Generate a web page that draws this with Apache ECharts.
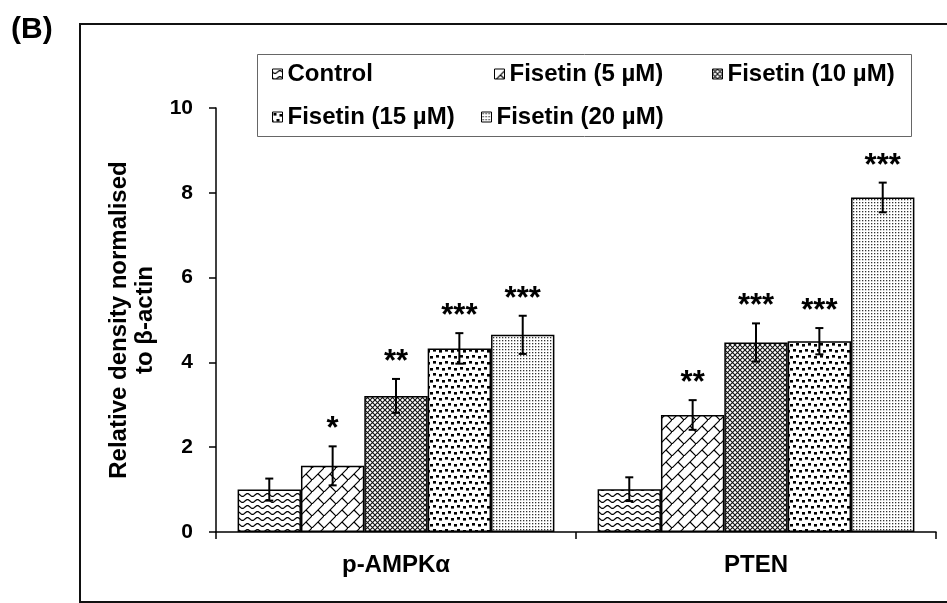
<!DOCTYPE html>
<html>
<head>
<meta charset="utf-8">
<script src="https://cdn.jsdelivr.net/npm/echarts@6/dist/echarts.min.js"></script>
<style>
  html, body { margin: 0; padding: 0; background: #fff; }
  #chart { width: 947px; height: 603px; }
</style>
</head>
<body>
<div id="chart"></div>
<script>
// categories and series values
const categories = ['p-AMPKα', 'PTEN']
const seriesNames = ['Control', 'Fisetin (5 µM)', 'Fisetin (10 µM)', 'Fisetin (15 µM)', 'Fisetin (20 µM)']

const control = [1.0, 1.01]
const fisetin5 = [1.56, 2.76]
const fisetin10 = [3.21, 4.47]
const fisetin15 = [4.33, 4.5]
const fisetin20 = [4.65, 7.89]

// error bar half lengths
const controlErr = [0.26, 0.28]
const fisetin5Err = [0.46, 0.35]
const fisetin10Err = [0.4, 0.45]
const fisetin15Err = [0.36, 0.31]
const fisetin20Err = [0.45, 0.35]

// significance marks
const controlSig = ['', '']
const fisetin5Sig = ['*', '**']
const fisetin10Sig = ['**', '***']
const fisetin15Sig = ['***', '***']
const fisetin20Sig = ['***', '***']

const yMin = 0
const yMax = 10
const yStep = 2

const values = [control, fisetin5, fisetin10, fisetin15, fisetin20]
const errors = [controlErr, fisetin5Err, fisetin10Err, fisetin15Err, fisetin20Err]
const sigs = [controlSig, fisetin5Sig, fisetin10Sig, fisetin15Sig, fisetin20Sig]

const FONT = 'Liberation Sans, Arial, sans-serif'
const CAT_GAP = 0.12

function makePattern(w, h, draw) {
  const c = document.createElement('canvas')
  c.width = w
  c.height = h
  const ctx = c.getContext('2d')
  ctx.fillStyle = '#fff'
  ctx.fillRect(0, 0, w, h)
  ctx.strokeStyle = '#000'
  ctx.fillStyle = '#000'
  draw(ctx)
  return { image: c, repeat: 'repeat' }
}

const patterns = [
  // wavy lines
  makePattern(10, 6, function(ctx) {
    ctx.lineWidth = 1.2
    ctx.beginPath()
    for (let x = -1; x <= 11; x += 0.5) {
      const y = 3 + 1.4 * Math.sin((2 * Math.PI * x) / 10)
      if (x === -1) ctx.moveTo(x, y)
      else ctx.lineTo(x, y)
    }
    ctx.stroke()
  }),
  // diagonal brick
  makePattern(12, 12, function(ctx) {
    ctx.lineWidth = 1.2
    ctx.beginPath()
    ctx.moveTo(-1, 13)
    ctx.lineTo(13, -1)
    ctx.moveTo(6, 6)
    ctx.lineTo(13, 13)
    ctx.stroke()
  }),
  // small diamonds (crosshatch)
  makePattern(5, 5, function(ctx) {
    ctx.lineWidth = 1.1
    ctx.strokeStyle = '#111'
    ctx.beginPath()
    ctx.moveTo(-1, -1)
    ctx.lineTo(6, 6)
    ctx.moveTo(-1, 6)
    ctx.lineTo(6, -1)
    ctx.stroke()
  }),
  // large confetti
  makePattern(12, 12, function(ctx) {
    ctx.fillRect(1, 1, 3, 2.6)
    ctx.fillRect(7, 2, 3, 2.6)
    ctx.fillRect(4, 7, 3, 2.6)
    ctx.fillRect(10, 8, 3, 2.6)
    ctx.fillRect(-2, 8, 3, 2.6)
  }),
  // small dots
  makePattern(3, 3, function(ctx) {
    ctx.fillStyle = '#333'
    ctx.fillRect(1, 1, 1.3, 1.3)
  })
]

function errorRenderer(si) {
  return function(params, api) {
    const cat = api.value(0)
    const v = api.value(1)
    const e = api.value(2)
    const band = api.size([1, 0])[0]
    const barW = (band * (1 - CAT_GAP)) / seriesNames.length
    const cx = api.coord([cat, 0])[0] - (band * (1 - CAT_GAP)) / 2 + barW * (si + 0.5)
    const top = api.coord([cat, v + e])[1]
    const bot = api.coord([cat, v - e])[1]
    const cap = 4
    const ls = { stroke: '#000', lineWidth: 2 }
    return {
      type: 'group',
      children: [
        { type: 'line', shape: { x1: cx, y1: top, x2: cx, y2: bot }, style: ls },
        { type: 'line', shape: { x1: cx - cap, y1: top, x2: cx + cap, y2: top }, style: ls },
        { type: 'line', shape: { x1: cx - cap, y1: bot, x2: cx + cap, y2: bot }, style: ls },
        {
          type: 'text',
          style: {
            text: sigs[si][params.dataIndex],
            x: cx,
            y: top - 1,
            align: 'center',
            verticalAlign: 'bottom',
            font: 'bold 31px ' + FONT,
            fill: '#000'
          }
        }
      ]
    }
  }
}

// legend placements (icon left, top)
const legendPos = [
  [272, 62],
  [494, 62],
  [712, 62],
  [272, 105],
  [481, 105]
]

const series = []
seriesNames.forEach(function(name, i) {
  series.push({
    name: name,
    type: 'bar',
    barGap: '0%',
    barCategoryGap: CAT_GAP * 100 + '%',
    data: values[i],
    itemStyle: {
      color: patterns[i],
      borderColor: '#000',
      borderWidth: 1.5
    }
  })
})
seriesNames.forEach(function(name, i) {
  series.push({
    type: 'custom',
    z: 10,
    renderItem: errorRenderer(i),
    encode: { x: 0, y: 1 },
    data: categories.map(function(c, k) {
      return [k, values[i][k], errors[i][k]]
    })
  })
})

const option = {
  animation: false,
  backgroundColor: '#fff',
  textStyle: { fontFamily: FONT },
  legend: seriesNames.map(function(name, i) {
    return {
      data: [name],
      left: legendPos[i][0],
      top: legendPos[i][1],
      padding: 0,
      itemWidth: 10,
      itemHeight: 10,
      icon: 'rect',
      selectedMode: false,
      itemStyle: { borderColor: '#000', borderWidth: 1 },
      textStyle: { fontSize: 24, fontWeight: 'bold', color: '#000', fontFamily: FONT }
    }
  }),
  graphic: [
    {
      type: 'text',
      left: 11,
      top: 15,
      style: { text: '(B)', font: 'bold 30px ' + FONT, fill: '#000' }
    },
    {
      type: 'rect',
      shape: { x: 80, y: 24, width: 900, height: 578 },
      style: { fill: null, stroke: '#111', lineWidth: 2 },
      silent: true
    },
    {
      type: 'rect',
      shape: { x: 257.5, y: 54.5, width: 654, height: 82 },
      style: { fill: null, stroke: '#666', lineWidth: 1 },
      silent: true
    }
  ],
  grid: {
    left: 216,
    right: 11,
    top: 108,
    bottom: 71
  },
  xAxis: {
    type: 'category',
    data: categories,
    axisLine: { lineStyle: { color: '#000', width: 1.5 } },
    axisTick: { show: true, length: 7, lineStyle: { color: '#000', width: 1.5 } },
    axisLabel: { color: '#000', fontSize: 24, fontWeight: 'bold', margin: 21, fontFamily: FONT }
  },
  yAxis: {
    type: 'value',
    min: yMin,
    max: yMax,
    interval: yStep,
    name: 'Relative density normalised\nto β-actin',
    nameLocation: 'middle',
    nameRotate: 90,
    nameGap: 49,
    nameTextStyle: { color: '#000', fontSize: 24, fontWeight: 'bold', lineHeight: 26, fontFamily: FONT },
    axisLine: { show: true, lineStyle: { color: '#000', width: 1.5 } },
    axisTick: { show: true, length: 7, lineStyle: { color: '#000', width: 1.5 } },
    axisLabel: { color: '#000', fontSize: 21, fontWeight: 'bold', margin: 23, fontFamily: FONT },
    splitLine: { show: false }
  },
  series: series
}

const chart = echarts.init(document.getElementById('chart'))
chart.setOption(option)
</script>
</body>
</html>
